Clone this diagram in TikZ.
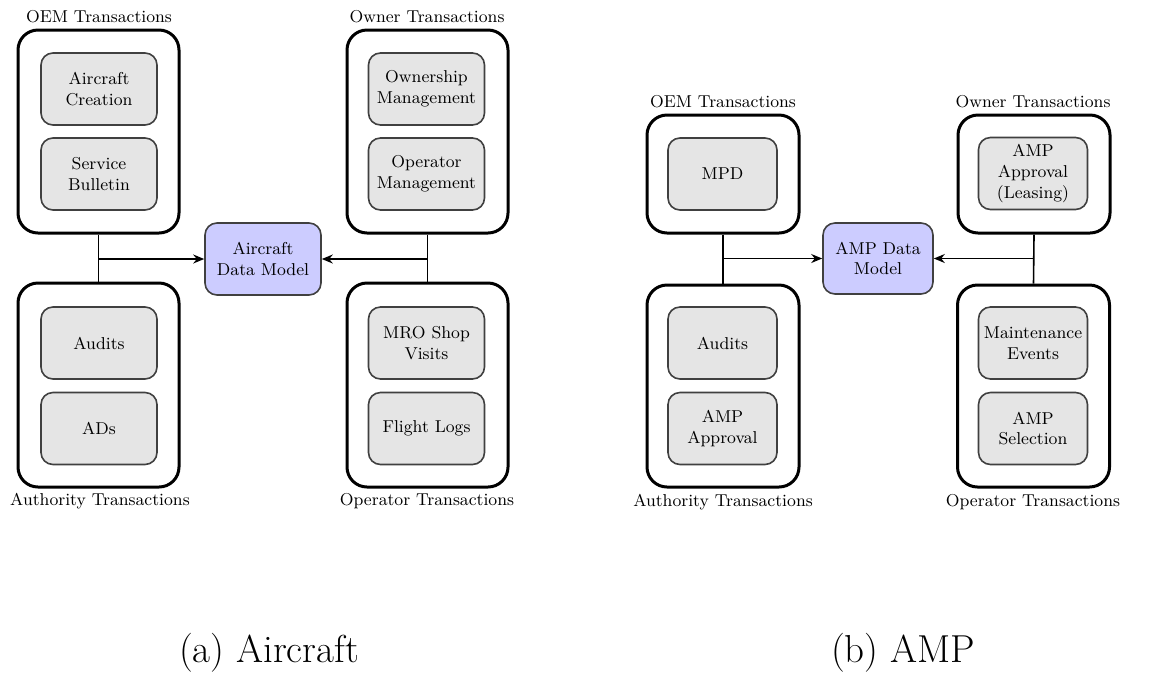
\documentclass[tikz,border=0pt]{standalone}
\usetikzlibrary{arrows.meta}
\begin{document}
\begin{tikzpicture}[x=0.5pt,y=-0.5pt,
  every node/.style={font=\fontsize{8.6}{10.4}\selectfont, inner sep=0pt},
  group/.style={draw=black, line width=1.5pt, rounded corners=10pt, fill=white},
  item/.style={draw=black!75, line width=0.8pt, rounded corners=6pt, fill=black!10, align=center},
  model/.style={draw=black!75, line width=0.8pt, rounded corners=6pt, fill=blue!20, align=center},
  lbl/.style={},
  link/.style={line width=0.8pt, black},
  arr/.style={link, -{Stealth[length=5.5pt,width=4.5pt]}},
  captext/.style={font=\fontsize{19.5}{23}\selectfont, anchor=base}
]
\useasboundingbox (0,0) rectangle (1171,676);

% ---------------- Panel (a) ----------------
\node[group, minimum width=80.5pt, minimum height=101.5pt] (aoem) at (98.5,131.5) {};
\node[item, minimum width=58pt, minimum height=36pt] (aac) at (99,89) {Aircraft\\Creation};
\node[item, minimum width=58pt, minimum height=36pt] (asb) at (99,174) {Service\\Bulletin};
\node[lbl] (aoeml) at (99,17) {OEM Transactions};

\node[group, minimum width=80.5pt, minimum height=101.5pt] (aown) at (427.5,131.5) {};
\node[item, minimum width=58pt, minimum height=36pt] (aom) at (426.5,89) {Ownership\\Management};
\node[item, minimum width=58pt, minimum height=36pt] (aopm) at (426.5,174) {Operator\\Management};
\node[lbl] (aownl) at (427,17) {Owner Transactions};

\node[group, minimum width=80.5pt, minimum height=102pt] (aauth) at (98.5,385) {};
\node[item, minimum width=58pt, minimum height=36pt] (aaud) at (99,343) {Audits};
\node[item, minimum width=58pt, minimum height=36pt] (aads) at (99,428.5) {ADs};
\node[lbl] (aauthl) at (100,501) {Authority Transactions};

\node[group, minimum width=80.5pt, minimum height=102pt] (aop) at (427.5,385) {};
\node[item, minimum width=58pt, minimum height=36pt] (amro) at (426.5,343) {MRO Shop\\Visits};
\node[item, minimum width=58pt, minimum height=36pt] (afl) at (426.5,428.5) {Flight Logs};
\node[lbl] (aopl) at (427,501) {Operator Transactions};

\node[model, minimum width=58pt, minimum height=36pt] (adm) at (263,259) {Aircraft\\Data Model};

\draw[link] (aoem.south) -- (aauth.north);
\draw[link] (aown.south) -- (aop.north);
\draw[arr] (aoem.south |- adm.west) -- (adm.west);
\draw[arr] (aown.south |- adm.east) -- (adm.east);

\node[captext] (capa) at (269,662) {(a) Aircraft};

% ---------------- Panel (b) ----------------
\node[group, minimum width=76pt, minimum height=59pt] (boem) at (723,174) {};
\node[item, minimum width=54.5pt, minimum height=36pt] (bmpd) at (722.5,174) {MPD};
\node[lbl] (boeml) at (723,102) {OEM Transactions};

\node[group, minimum width=76pt, minimum height=59pt] (bown) at (1034,174) {};
\node[item, minimum width=54.5pt, minimum height=36pt] (bal) at (1033,173.5) {AMP\\Approval\\(Leasing)};
\node[lbl] (bownl) at (1033,102) {Owner Transactions};

\node[group, minimum width=76pt, minimum height=101pt] (bauth) at (723,386) {};
\node[item, minimum width=54.5pt, minimum height=36pt] (baud) at (722.5,343) {Audits};
\node[item, minimum width=54.5pt, minimum height=36pt] (bapp) at (722.5,428.5) {AMP\\Approval};
\node[lbl] (bauthl) at (723,502) {Authority Transactions};

\node[group, minimum width=76pt, minimum height=101pt] (bop) at (1033.5,386) {};
\node[item, minimum width=54.5pt, minimum height=36pt] (bme) at (1033,343) {Maintenance\\Events};
\node[item, minimum width=54.5pt, minimum height=36pt] (bsel) at (1033,428.5) {AMP\\Selection};
\node[lbl] (bopl) at (1033,502) {Operator Transactions};

\node[model, minimum width=55pt, minimum height=35.5pt] (bdm) at (878,258.5) {AMP Data\\Model};

\draw[link] (boem.south) -- (bauth.north);
\draw[link] (bown.south) -- (bop.north);
\draw[arr] (boem.south |- bdm.west) -- (bdm.west);
\draw[arr] (bown.south |- bdm.east) -- (bdm.east);

\node[captext] (capb) at (903,662) {(b) AMP};
\end{tikzpicture}
\end{document}
